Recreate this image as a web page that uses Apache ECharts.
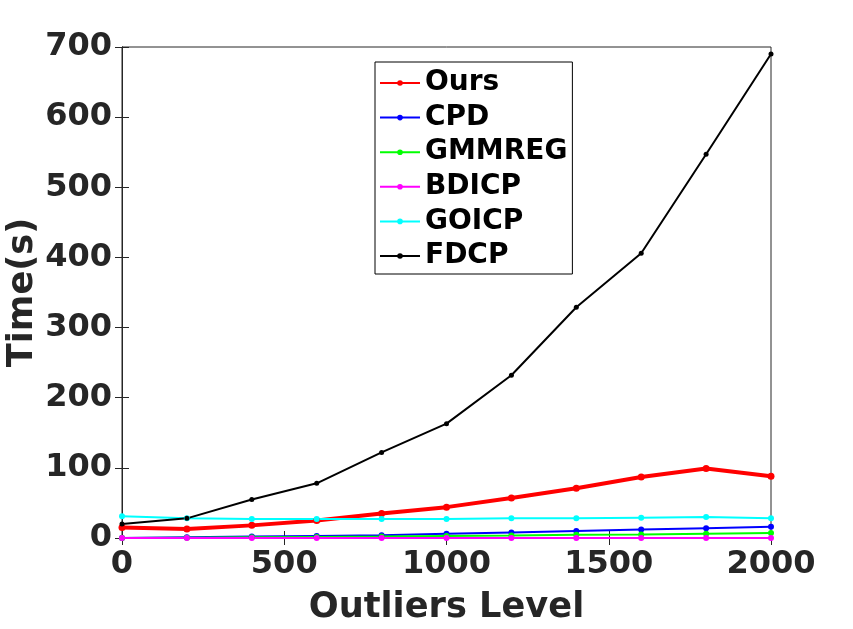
<!DOCTYPE html>
<html>
<head>
<meta charset="utf-8">
<script src="https://cdn.jsdelivr.net/npm/echarts@6/dist/echarts.min.js"></script>
<style>
html,body{margin:0;padding:0;background:#fff;}
#chart{width:853px;height:629px;}
</style>
</head>
<body>
<div id="chart"></div>
<script>
var myChart = echarts.init(document.getElementById('chart'));

// outliers level (x) and run time in seconds per method
var levels = [0, 200, 400, 600, 800, 1000, 1200, 1400, 1600, 1800, 2000];
var ours   = [15, 13, 18, 25, 35, 44, 57, 71, 87, 99, 88];
var cpd    = [0, 1, 2, 3, 4, 6, 8, 10, 12, 14, 16];
var gmmreg = [0, 0.5, 1, 1.5, 2, 3, 3.5, 4.5, 5, 6, 7];
var bdicp  = [0, 0, 0, 0, 0, 0, 0, 0, 0, 0, 0];
var goicp  = [31, 28, 27, 27, 27, 27, 28, 28, 29, 30, 28];
var fdcp   = [20, 28, 55, 78, 122, 163, 232, 329, 406, 547, 690];

var txt = '#262626';
var font = 'DejaVu Sans';

function pairs(arr){
    return levels.map(function(x, i){ return [x, arr[i]]; });
}
function line(name, arr, color, width, size){
    return {
        name: name,
        type: 'line',
        data: pairs(arr),
        symbol: 'circle',
        symbolSize: size,
        showSymbol: true,
        lineStyle: {color: color, width: width},
        itemStyle: {color: color},
        z: 2
    };
}
function plain(v){ return String(v); }

var option = {
    backgroundColor: '#fff',
    animation: false,
    grid: {
        left: 122,
        right: 82,
        top: 47,
        bottom: 91,
        outerBoundsMode: 'none',
        containLabel: false,
        show: true,
        borderColor: txt,
        borderWidth: 1
    },
    legend: {
        orient: 'vertical',
        left: 375,
        top: 62,
        padding: [6, 5, 3, 4],
        itemWidth: 40,
        itemHeight: 7,
        itemGap: 4.6,
        borderColor: '#000',
        borderWidth: 1,
        backgroundColor: '#fff',
        selectedMode: false,
        textStyle: {
            color: '#000',
            fontFamily: font,
            fontWeight: 'bold',
            fontSize: 28,
            lineHeight: 30
        },
        data: ['Ours', 'CPD', 'GMMREG', 'BDICP', 'GOICP', 'FDCP']
    },
    xAxis: [
        {
            type: 'value',
            min: 0,
            max: 2000,
            interval: 500,
            name: 'Outliers Level',
            nameLocation: 'middle',
            nameGap: 52,
            nameMoveOverlap: false,
            nameTextStyle: {color: txt, fontFamily: font, fontWeight: 'bold', fontSize: 35.2},
            axisLine: {show: true, lineStyle: {color: txt, width: 1}},
            axisTick: {show: true, inside: true, length: 7, lineStyle: {color: txt}},
            axisLabel: {color: txt, fontFamily: font, fontWeight: 'bold', fontSize: 32, margin: 11, formatter: plain},
            splitLine: {show: false}
        },
        {
            type: 'value',
            position: 'top',
            min: 0,
            max: 2000,
            interval: 500,
            axisLine: {show: true, lineStyle: {color: txt, width: 1}},
            axisTick: {show: true, inside: true, length: 7, lineStyle: {color: txt}},
            axisLabel: {show: false},
            splitLine: {show: false}
        }
    ],
    yAxis: [
        {
            type: 'value',
            min: 0,
            max: 700,
            interval: 100,
            name: 'Time(s)',
            nameLocation: 'middle',
            nameGap: 82,
            nameMoveOverlap: false,
            nameTextStyle: {color: txt, fontFamily: font, fontWeight: 'bold', fontSize: 35.2},
            axisLine: {show: true, lineStyle: {color: txt, width: 1}},
            axisTick: {show: true, inside: true, length: 7, lineStyle: {color: txt}},
            axisLabel: {color: txt, fontFamily: font, fontWeight: 'bold', fontSize: 32, margin: 10, formatter: plain},
            splitLine: {show: false}
        },
        {
            type: 'value',
            position: 'right',
            min: 0,
            max: 700,
            interval: 100,
            axisLine: {show: true, lineStyle: {color: txt, width: 1}},
            axisTick: {show: true, inside: true, length: 7, lineStyle: {color: txt}},
            axisLabel: {show: false},
            splitLine: {show: false}
        }
    ],
    series: [
        line('Ours', ours, '#ff0000', 4, 7),
        line('CPD', cpd, '#0000ff', 2, 6),
        line('GMMREG', gmmreg, '#00ff00', 2, 6),
        line('BDICP', bdicp, '#ff00ff', 2, 6),
        line('GOICP', goicp, '#00ffff', 2, 6),
        line('FDCP', fdcp, '#000000', 2, 5)
    ]
};
myChart.setOption(option);
</script>
</body>
</html>
